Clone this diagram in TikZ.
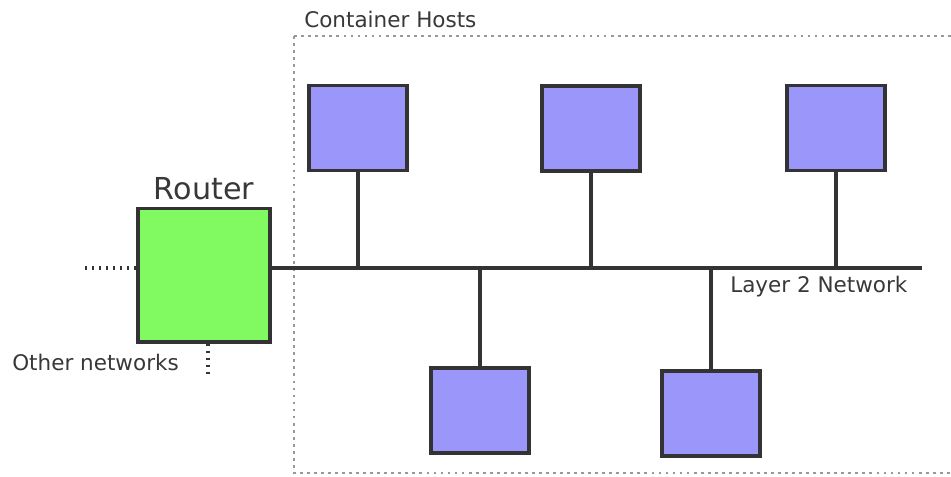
\documentclass[tikz,border=0pt]{standalone}
\usepackage{fontspec}
\setmainfont{DejaVu Sans}
\usepackage{tikz}
\usetikzlibrary{calc,
                positioning
                }

\definecolor{routergreen}{HTML}{80FA60}
\definecolor{hostblue}{HTML}{9A96FA}
\definecolor{wire}{HTML}{333333}
\definecolor{labelgray}{HTML}{383838}

\tikzset{
    hostbox/.style={draw=wire, fill=hostblue, line width=2.3pt,
        minimum width=2.45cm, minimum height=2.12cm, inner sep=0pt},
    routerbox/.style={draw=wire, fill=routergreen, line width=2.3pt,
        minimum width=3.3cm, minimum height=3.33cm, inner sep=0pt},
    bus/.style={draw=wire, line width=2.3pt},
    loose/.style={draw=wire, line width=2.2pt, dash pattern=on 1.5pt off 3.5pt},
    txt/.style={text=labelgray, inner sep=0pt, font=\fontsize{15.3}{18}\selectfont}
}

\begin{document}
\begin{tikzpicture}[x=0.025cm, y=-0.025cm]
    \useasboundingbox (0,0) rectangle (951,477);
    \clip (0,0) rectangle (951,477);

    % container hosts area
    \draw[gray!80, line width=1.5pt, dash pattern=on 2pt off 3pt]
        (294,36) rectangle (980,473);
    \node[txt, anchor=south west] (hosts) at (304,28) {Container Hosts};

    % router
    \node[routerbox] (router) at (204,275.5) {};
    \node[txt, anchor=south, font=\fontsize{21.5}{25}\selectfont] (rlabel)
        at ($(router.north)+(0,-7)$) {Router};
    \coordinate (outL) at (85,268);
    \coordinate (outD) at (208,378);
    \draw[loose] (outL) -- (outL -| router.west);
    \draw[loose] (router.south -| outD) -- (outD);
    \node[txt, anchor=west] (other) at (12,362) {Other networks};

    % layer 2 network
    \coordinate (busL) at (router.east |- 0,268);
    \coordinate (busR) at (922,268);
    \draw[bus] (busL) -- (busR);
    \node[txt, anchor=north west] (l2) at (730,276) {Layer 2 Network};

    % hosts above the bus
    \node[hostbox] (h1) at (358,128) {};
    \node[hostbox] (h2) at (591,128.5) {};
    \node[hostbox] (h3) at (836,128) {};
    % hosts below the bus
    \node[hostbox] (h4) at (480,410.5) {};
    \node[hostbox] (h5) at (711,413.5) {};

    \foreach \h in {h1,h2,h3}
        \draw[bus] (\h.south) -- (\h.south |- busL);
    \foreach \h in {h4,h5}
        \draw[bus] (\h.north) -- (\h.north |- busL);
\end{tikzpicture}
\end{document}
